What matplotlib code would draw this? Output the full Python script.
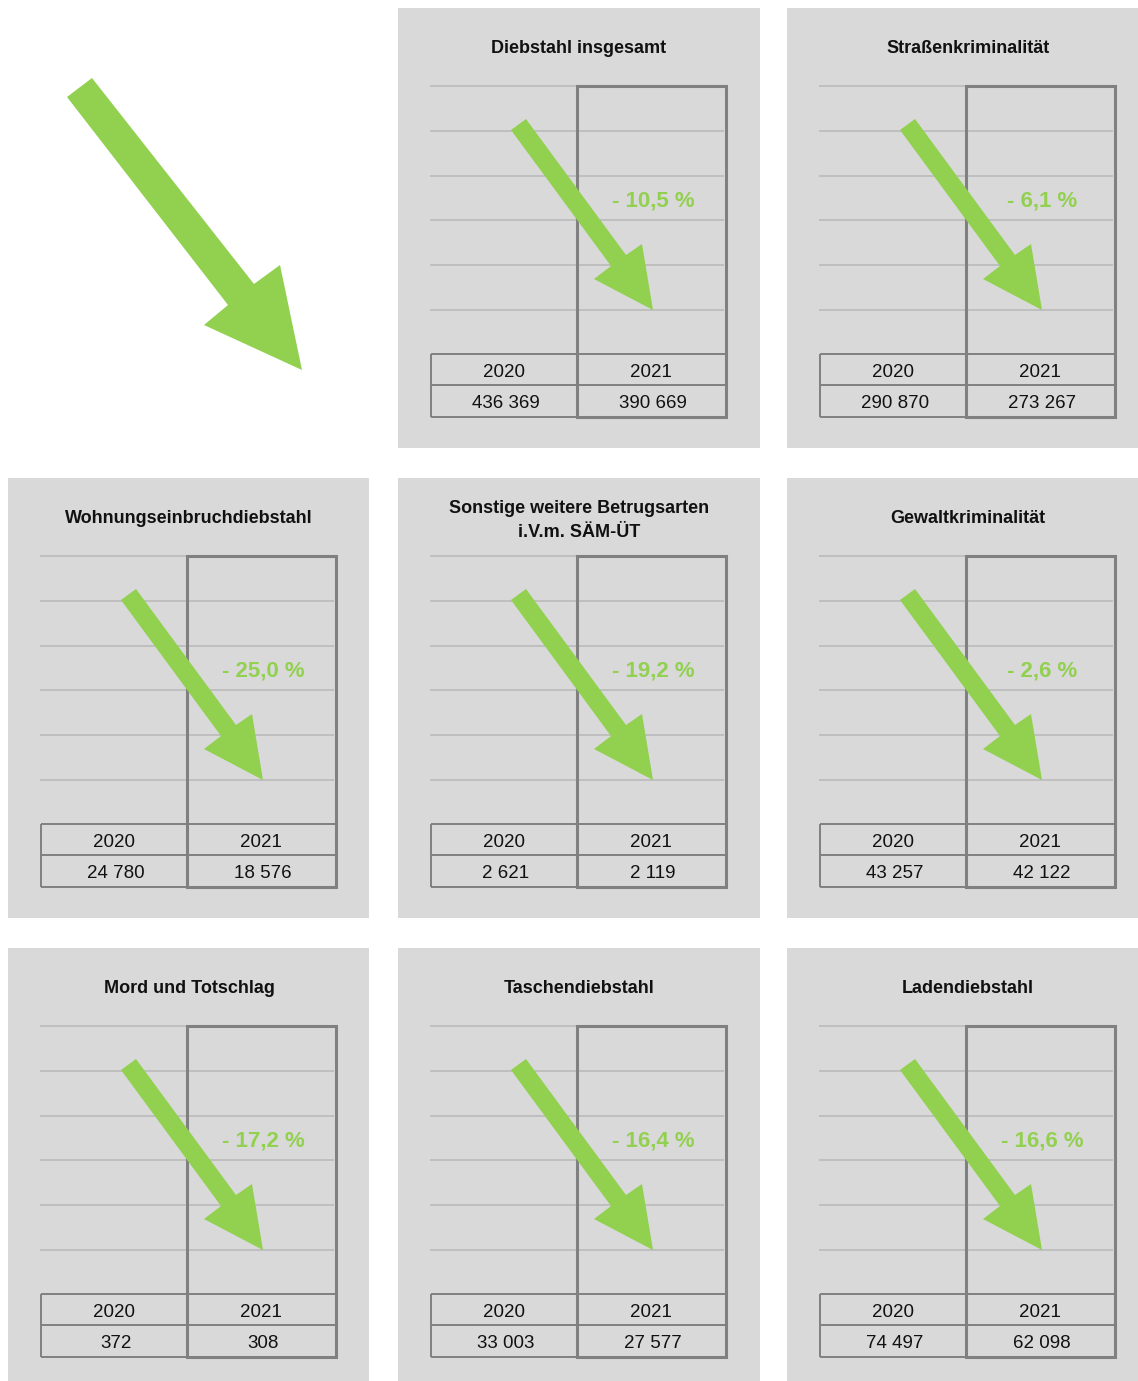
import matplotlib
matplotlib.use('Agg')
import matplotlib.pyplot as plt
from matplotlib.patches import Rectangle, Polygon

plt.rcParams['font.family'] = ['Liberation Sans', 'DejaVu Sans']

# Daten (Fallzahlen 2020 / 2021 und Veränderung in %)
titles = ['Diebstahl insgesamt', 'Straßenkriminalität',
          'Wohnungseinbruchdiebstahl', 'Sonstige weitere Betrugsarten\ni.V.m. SÄM-ÜT',
          'Gewaltkriminalität', 'Mord und Totschlag',
          'Taschendiebstahl', 'Ladendiebstahl']
years = ['2020', '2021']
cases_2020 = [436369, 290870, 24780, 2621, 43257, 372, 33003, 74497]
cases_2021 = [390669, 273267, 18576, 2119, 42122, 308, 27577, 62098]
change_pct = [-10.5, -6.1, -25.0, -19.2, -2.6, -17.2, -16.4, -16.6]

W, H = 1138, 1381
green = '#92D050'
panel_bg = '#D9D9D9'
line_gray = '#808080'
grid_gray = '#BFBFBF'

def fmt_num(v):
    return '{:,}'.format(v).replace(',', ' ')

def fmt_pct(p):
    return '- ' + ('%.1f' % abs(p)).replace('.', ',') + ' %'

fig = plt.figure(figsize=(W / 100, H / 100), dpi=100)
ax = fig.add_axes([0, 0, 1, 1])
ax.set_xlim(0, W)
ax.set_ylim(H, 0)
ax.axis('off')

# grosser Pfeil oben links
big_arrow = [(67, 97), (92, 78), (254, 284), (280, 265), (302, 370), (204, 325), (228, 305)]
ax.add_patch(Polygon(big_arrow, closed=True, fc=green, ec='none'))

col_x = [8, 398, 787]
col_w = [361, 362, 351]
row_y = [8, 478, 948]
row_h = [440, 440, 433]

# Pfeil im Panel (relativ zur linken oberen Ecke)
arrow_rel = [(113, 122), (128, 111), (228, 247), (244, 236), (255, 302), (196, 271), (213, 258)]
grid_rel = [78, 123, 168, 212, 257, 302]

slots = [(r, c) for r in range(3) for c in range(3)][1:]
for i, (r, c) in enumerate(slots):
    x0, y0 = col_x[c], row_y[r]
    ax.add_patch(Rectangle((x0, y0), col_w[c], row_h[r], fc=panel_bg, ec='none', zorder=0))

    # Titel
    lines = titles[i].split('\n')
    n = len(lines)
    for k, t in enumerate(lines):
        yb = y0 + 45 + 1.5 * (n - 1) + (k - (n - 1) / 2) * 24
        ax.text(x0 + 181, yb, t, ha='center', va='baseline', fontsize=13,
                fontweight='bold', color='#111111')

    # Gitterlinien
    ax.hlines([y0 + g for g in grid_rel], x0 + 32, x0 + 326, colors=grid_gray, lw=1.4, zorder=1)

    # Datentabelle
    ax.hlines([y0 + 346, y0 + 377, y0 + 409], x0 + 33, x0 + 328, colors=line_gray, lw=1.4, zorder=2)
    ax.vlines([x0 + 33, x0 + 179], y0 + 346, y0 + 409, colors=line_gray, lw=1.4, zorder=2)
    col_cx = [x0 + 106, x0 + 253]
    for j, yr in enumerate(years):
        ax.text(col_cx[j], y0 + 369, yr, ha='center', va='baseline', fontsize=13.5, color='#111111')
    vals = [cases_2020[i], cases_2021[i]]
    for j, v in enumerate(vals):
        ax.text(col_cx[j] + 2, y0 + 400, fmt_num(v), ha='center', va='baseline',
                fontsize=13.5, color='#111111')

    # Rahmen 2021
    ax.add_patch(Rectangle((x0 + 179, y0 + 78), 149, 331, fc='none', ec=line_gray,
                           lw=2.2, zorder=3))

    # Pfeil und Veränderung
    ax.add_patch(Polygon([(x0 + px, y0 + py) for px, py in arrow_rel], closed=True,
                         fc=green, ec='none', zorder=4))
    ax.text(x0 + 255, y0 + 198, fmt_pct(change_pct[i]), ha='center', va='baseline',
            fontsize=16, fontweight='bold', color=green, zorder=5)

fig.savefig('out.png', dpi=100)
